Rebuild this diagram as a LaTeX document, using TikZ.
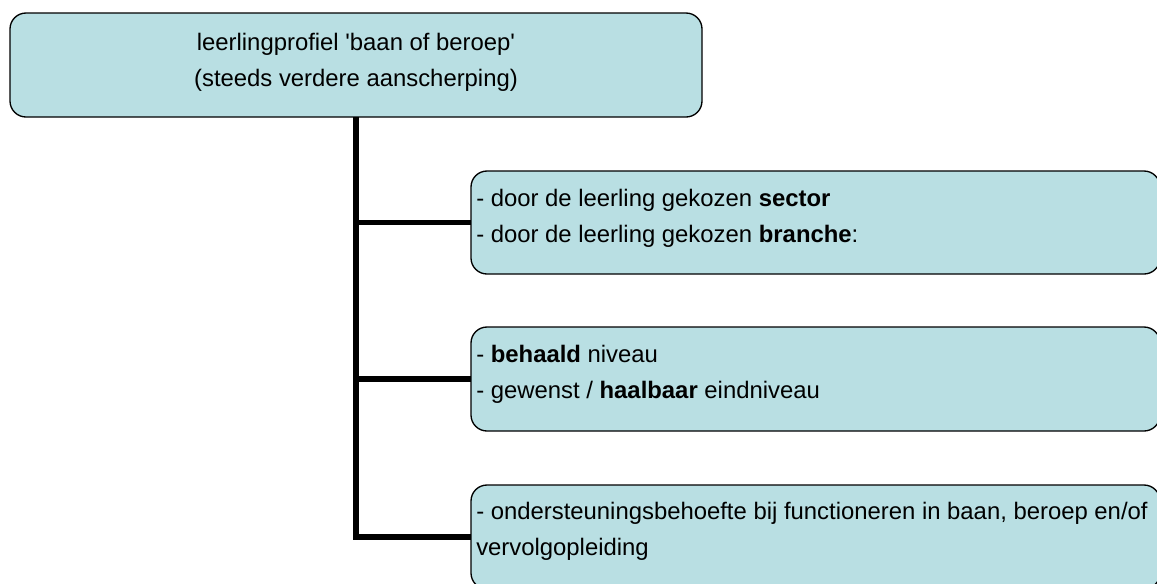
\documentclass[tikz,border=0pt]{standalone}
\usepackage{fontspec}
\setmainfont{Liberation Sans}[Ligatures=TeXOff]
\usetikzlibrary{calc}
\definecolor{boxfill}{RGB}{185,223,227}
\def\u{0.75pt}
\tikzset{
  box/.style={draw=black, line width=1pt, fill=boxfill, rounded corners=12pt, inner sep=0pt, outer sep=0pt},
  txt/.style={inner sep=0pt, font=\fontsize{17.9}{27.3}\selectfont},
  conn/.style={line width=3.9pt, draw=black}
}
\begin{document}
\begin{tikzpicture}[x=0.75pt,y=-0.75pt]
\useasboundingbox (0,0) rectangle (1157,583);
% boxes
\node[box, anchor=north west, minimum width=692*\u, minimum height=104*\u] (top) at (10,13) {};
\node[box, anchor=north west, minimum width=689*\u, minimum height=103*\u] (b1) at (471,171) {};
\node[box, anchor=north west, minimum width=689*\u, minimum height=104*\u] (b2) at (471,327) {};
\node[box, anchor=north west, minimum width=689*\u, minimum height=104*\u] (b3) at (471,485) {};
% connectors
\draw[conn] (top.south) |- (b3.west);
\draw[conn] (top.south |- b1.west) -- (b1.west);
\draw[conn] (top.south |- b2.west) -- (b2.west);
% texts
\node[txt, align=center, anchor=north] (t0) at ($(top.north)+(0,20)$)
  {leerlingprofiel 'baan of beroep'\\(steeds verdere aanscherping)};
\node[txt, align=left, anchor=north west] (t1) at ($(b1.north west)+(5,18)$)
  {- door de leerling gekozen \textbf{sector}\\- door de leerling gekozen \textbf{branche}:};
\node[txt, align=left, anchor=north west] (t2) at ($(b2.north west)+(5,18)$)
  {- \textbf{behaald} niveau\\- gewenst / \textbf{haalbaar} eindniveau};
\node[txt, align=left, anchor=north west] (t3) at ($(b3.north west)+(5,17)$)
  {- ondersteuningsbehoefte bij functioneren in baan, beroep en/of\\vervolgopleiding};
\end{tikzpicture}
\end{document}
